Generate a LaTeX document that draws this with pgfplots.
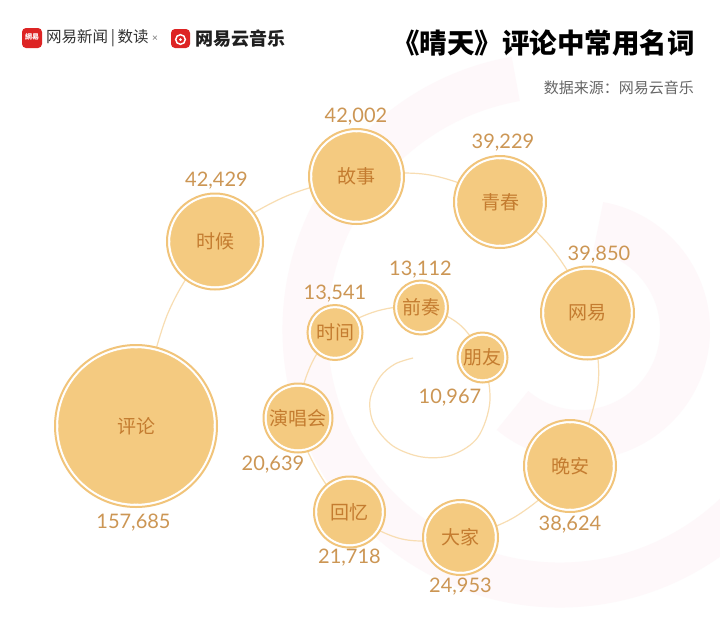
\documentclass[border=0pt]{standalone}
\usepackage{pgfplots}
\pgfplotsset{compat=1.18}
\usepackage{pgfplotstable}
\usepackage{fontspec}
\newfontfamily\cjk{Noto Sans CJK SC}
\newfontfamily\num{Lato}
\definecolor{bubfill}{HTML}{F4CA80}
\definecolor{bubring}{HTML}{F1C47A}
\definecolor{bubtxt}{HTML}{C47C30}
\definecolor{numtxt}{HTML}{CC9654}
\definecolor{spiral}{HTML}{F8DDB2}
\definecolor{wm}{HTML}{FEF8FA}
\definecolor{nered}{HTML}{DD2424}

\pgfplotstableread{
x y r name
136 426 82 评论
215 241.5 49 时候
356.5 176.5 48.5 故事
500 202 47 青春
587.5 313 47.5 网易
570 466 47 晚安
460.5 537.5 38.5 大家
349.5 512 36.5 回忆
298 418 35.5 演唱会
335 332.5 28.5 时间
421 307.5 28 前奏
482.5 357.5 26 朋友
}\bubbles

\pgfplotstableread{
lx ly lab
133.5 522.5 157,685
216.5 180.5 42,429
356 117 42,002
503 142.5 39,229
599 255 39,850
570 524.5 38,624
460.5 587 24,953
349.5 557.5 21,718
273 465 20,639
335 293.5 13,541
420.5 269.5 13,112
450 398 10,967
}\labels

\begin{document}
\begin{tikzpicture}
\begin{axis}[
  width=720pt, height=619pt, scale only axis,
  xmin=0, xmax=720, ymin=0, ymax=619, y dir=reverse,
  axis lines=none, clip=false,
  axis background/.style={fill=white},
]
% faint watermark
\draw[wm, line width=45pt] (axis cs:560,330) ++(100:255pt) arc[start angle=100, end angle=330, radius=255pt];
\draw[wm, line width=50pt] (axis cs:580,330) ++(80:105pt) arc[start angle=80, end angle=-130, radius=105pt];

% spiral
\addplot[spiral, line width=1.2pt, smooth, tension=0.55] coordinates {
(136,427) (168,313) (215,242) (282,198) (357,177) (430,175) (500,202)
(553,250) (588,313) (598,385) (570,466) (518,515) (460,537) (402,539)
(350,512) (316,468) (298,418) (310,367) (335,332) (377,311) (421,307)
(459,324) (482,357) (490,400) (478,437) (452,455) (422,457) (393,446)
(374,424) (370,400) (380,377) (395,364) (413,358)
};

% outer rings
\addplot[scatter, only marks, mark=*,
  scatter/use mapped color={draw=bubring, fill=white},
  mark options={line width=2pt},
  visualization depends on={\thisrow{r}-1 \as \rad},
  scatter/@pre marker code/.append style={/tikz/mark size=\rad}]
  table[x=x, y=y] {\bubbles};

% inner fill
\addplot[scatter, only marks, mark=*,
  scatter/use mapped color={draw=bubfill, fill=bubfill},
  visualization depends on={\thisrow{r}-4.5 \as \rin},
  scatter/@pre marker code/.append style={/tikz/mark size=\rin}]
  table[x=x, y=y] {\bubbles};

% names
\addplot[draw=none, mark=none, point meta=explicit symbolic,
  nodes near coords,
  every node near coord/.append style={anchor=center, text=bubtxt,
    font=\cjk\fontsize{19}{19}\selectfont}]
  table[x=x, y=y, meta=name] {\bubbles};

% value labels
\addplot[draw=none, mark=none, point meta=explicit symbolic,
  nodes near coords,
  every node near coord/.append style={anchor=center, text=numtxt,
    font=\num\fontsize{20}{20}\selectfont}]
  table[x=lx, y=ly, meta=lab] {\labels};

% header
\fill[nered, rounded corners=4pt] (axis cs:22,28) rectangle (axis cs:42,48);
\node[white, inner sep=0] at (axis cs:32,37) {\cjk\bfseries\fontsize{7}{7}\selectfont 網易};
\node[anchor=west, inner sep=0, text=black!80] at (axis cs:46,38.5) {\cjk\fontsize{15.5}{15.5}\selectfont 网易新闻\,|\,数读};
\node[inner sep=0, text=black!55] at (axis cs:155,39) {\num\fontsize{10}{10}\selectfont ×};
\fill[nered, rounded corners=4pt] (axis cs:171,29) rectangle (axis cs:190,48);
\draw[white, line width=1.5pt] (axis cs:180.5,39.5) circle (4.8pt);
\fill[white] (axis cs:180.5,39.5) circle (1.5pt);
\node[anchor=west, inner sep=0, text=black!88] at (axis cs:195,39) {\cjk\bfseries\fontsize{18}{18}\selectfont 网易云音乐};
\node[anchor=east, inner sep=0, text=black] at (axis cs:695,43) {\cjk\bfseries\fontsize{27.5}{27.5}\selectfont 《晴天》评论中常用名词};
\node[anchor=east, inner sep=0, text=black!60] at (axis cs:694,87.5) {\cjk\fontsize{15}{15}\selectfont 数据来源：网易云音乐};
\end{axis}
\pgfresetboundingbox
\path[use as bounding box] (current axis.south west) rectangle (current axis.north east);
\end{tikzpicture}
\end{document}
